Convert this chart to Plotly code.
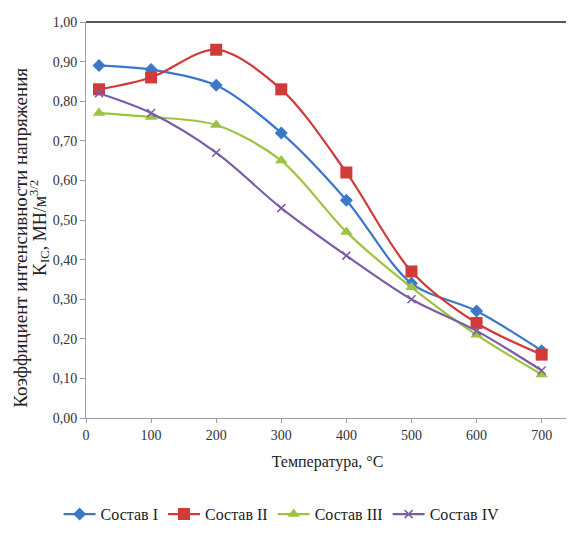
import plotly.graph_objects as go

temps = [20, 100, 200, 300, 400, 500, 600, 700]
sostav_1 = [0.89, 0.88, 0.84, 0.72, 0.55, 0.34, 0.27, 0.17]
sostav_2 = [0.83, 0.86, 0.93, 0.83, 0.62, 0.37, 0.24, 0.16]
sostav_3 = [0.77, 0.76, 0.74, 0.65, 0.47, 0.33, 0.21, 0.11]
sostav_4 = [0.82, 0.77, 0.67, 0.53, 0.41, 0.30, 0.22, 0.12]
names = ["Состав I", "Состав II", "Состав III", "Состав IV"]
x_ticks = [0, 100, 200, 300, 400, 500, 600, 700]
y_ticks = [0, 0.1, 0.2, 0.3, 0.4, 0.5, 0.6, 0.7, 0.8, 0.9, 1.0]
y_title_1 = "Коэффициент интенсивности напряжения"
y_title_2 = "K<sub>IC</sub>, МН/м<sup>3/2</sup>"

colors = ["#3B78C8", "#D23A3A", "#9DC43E", "#7A5CA8"]
symbols = ["diamond", "square", "triangle-up", "x-thin"]
sizes = [10, 12, 11, 8]

FONT = "Liberation Serif"
fig = go.Figure()
for name, vals, c, s, sz in zip(names, [sostav_1, sostav_2, sostav_3, sostav_4], colors, symbols, sizes):
    marker = dict(symbol=s, size=sz, color=c)
    if s == "x-thin":
        marker["line"] = dict(color=c, width=1.5)
    fig.add_trace(go.Scatter(
        x=temps, y=vals, name=name, mode="lines+markers",
        line=dict(color=c, width=2.2, shape="spline", smoothing=0.9),
        marker=marker,
    ))

fig.update_layout(
    width=566, height=529,
    margin=dict(l=78, r=5, t=14, b=119, autoexpand=False),
    paper_bgcolor="white", plot_bgcolor="white",
    font=dict(family=FONT, color="#333333"),
    separators=", ",
    showlegend=True,
    legend=dict(orientation="h", x=0.405, xanchor="center", y=-0.2, yanchor="top",
                font=dict(family=FONT, size=16, color="#222222"),
                itemwidth=32, tracegroupgap=0),
    xaxis=dict(range=[0, 742], tickvals=x_ticks, showgrid=False, zeroline=False, automargin=False,
               showline=True, linecolor="#A0A0A0", linewidth=1,
               ticks="outside", ticklen=4, tickcolor="#A0A0A0",
               tickfont=dict(family=FONT, size=14, color="#333333"),
               title=dict(text="Температура, °C", font=dict(family=FONT, size=16, color="#222222"), standoff=14)),
    yaxis=dict(range=[0, 1.0], tickvals=y_ticks, tickformat=".2f", showgrid=False, zeroline=False, automargin=False,
               showline=True, linecolor="#A0A0A0", linewidth=1,
               ticks="outside", ticklen=5, tickcolor="#A0A0A0",
               tickfont=dict(family=FONT, size=14, color="#333333")),
)
fig.add_annotation(text=y_title_1, xref="paper", yref="paper", x=0, y=0.455, xshift=-65,
                   textangle=-90, showarrow=False, xanchor="center", yanchor="middle",
                   font=dict(family=FONT, size=19, color="#222222"))
fig.add_annotation(text=y_title_2, xref="paper", yref="paper", x=0, y=0.48, xshift=-46,
                   textangle=-90, showarrow=False, xanchor="center", yanchor="middle",
                   font=dict(family=FONT, size=18, color="#222222"))
fig.add_shape(type="line", xref="paper", yref="paper", x0=0, x1=1, y0=1, y1=1,
              line=dict(color="#202020", width=1.5))
fig.add_shape(type="line", xref="paper", yref="paper", x0=1, x1=1, y0=0, y1=1,
              line=dict(color="#A0A0A0", width=1))

fig.write_html("out.html")
